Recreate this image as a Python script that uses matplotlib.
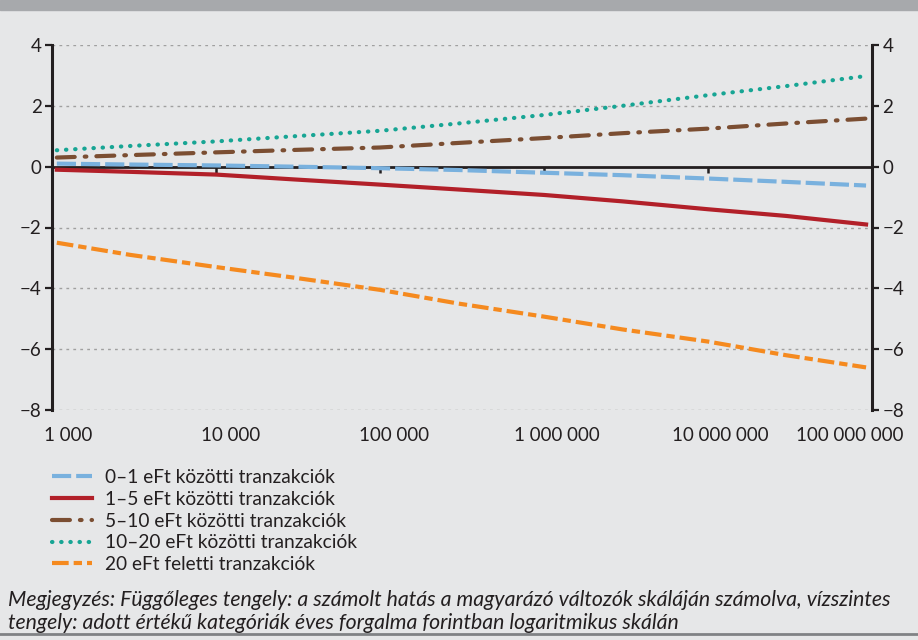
import matplotlib
matplotlib.use("Agg")
import matplotlib.pyplot as plt
import matplotlib.transforms as mtransforms
from matplotlib.lines import Line2D
from matplotlib import font_manager

plt.rcParams['font.family'] = ['Lato', 'DejaVu Sans']

# ---- data ----
x_vals = [1070, 3000, 10000, 30000, 100000, 300000, 1000000, 3000000,
          10000000, 30000000, 92000000]
s_0_1 = [0.10, 0.07, 0.04, 0.00, -0.05, -0.11, -0.20, -0.28, -0.39, -0.50, -0.62]
s_1_5 = [-0.10, -0.17, -0.26, -0.42, -0.59, -0.75, -0.93, -1.14, -1.40, -1.62, -1.90]
s_5_10 = [0.30, 0.38, 0.47, 0.55, 0.63, 0.78, 0.94, 1.10, 1.25, 1.42, 1.58]
s_10_20 = [0.54, 0.68, 0.83, 1.00, 1.18, 1.42, 1.70, 2.00, 2.35, 2.65, 2.98]
s_20p = [-2.50, -2.90, -3.30, -3.65, -4.05, -4.50, -4.93, -5.35, -5.75, -6.20, -6.60]

labels = ["0–1 eFt közötti tranzakciók", "1–5 eFt közötti tranzakciók",
          "5–10 eFt közötti tranzakciók", "10–20 eFt közötti tranzakciók",
          "20 eFt feletti tranzakciók"]
x_ticks = [1e3, 1e4, 1e5, 1e6, 1e7, 1e8]
x_ticklabels = ["1 000", "10 000", "100 000", "1 000 000", "10 000 000", "100 000 000"]
y_ticks = [-8, -6, -4, -2, 0, 2, 4]
y_ticklabels = ["−8", "−6", "−4", "−2", "0", "2", "4"]
note = ("Megjegyzés: Függőleges tengely: a számolt hatás a magyarázó változók skáláján számolva, vízszintes\n"
        "tengely: adott értékű kategóriák éves forgalma forintban logaritmikus skálán")

installed = {f.name for f in font_manager.fontManager.ttflist}
note_family = ['Liberation Sans Narrow', 'Lato'] if 'Liberation Sans Narrow' in installed else ['Lato']
note_size = 14.5 if 'Liberation Sans Narrow' in installed else 15.3

BG = "#e6e7e8"
DARK = "#231f20"
fig = plt.figure(figsize=(9.18, 6.4), dpi=100, facecolor=BG)
ax = fig.add_axes([52/918, 1-410/640, (872-52)/918, (410-45)/640], facecolor=BG)

# top bar and bottom rule
fig.patches.append(plt.Rectangle((0, 1-10/640), 1, 10/640, transform=fig.transFigure,
                                 color="#a7a9ac", zorder=0))
fig.lines.append(Line2D([0, 1], [1-634/640, 1-634/640], transform=fig.transFigure,
                        color="#808285", lw=2))

lw = 3.0
ax.plot(x_vals, s_0_1, color="#79b1de", lw=lw, dashes=(4.6, 1.2), label=labels[0], zorder=4)
ax.plot(x_vals, s_1_5, color="#b22029", lw=lw, label=labels[1], zorder=4)
ax.plot(x_vals, s_5_10, color="#7b4e32", lw=lw, dashes=(4.3, 2.4, 0.4, 2.4), label=labels[2],
        dash_capstyle='round', zorder=4)
ax.plot(x_vals, s_10_20, color="#17a594", lw=lw, dashes=(0.1, 2.1), dash_capstyle='round',
        label=labels[3], zorder=4)
ax.plot(x_vals, s_20p, color="#f58a1f", lw=lw, dashes=(4, 1.2, 2, 1.2), label=labels[4], zorder=4)

ax.set_xscale('log')
ax.set_xlim(1e3, 1e8)
ax.set_ylim(-8, 4)

# grid
for y in y_ticks:
    if y != 0:
        ax.axhline(y, color="#a0a0a0", lw=1, ls=(0, (2, 3)), zorder=1)

# spines
ax.spines['top'].set_visible(False)
for s in ['left', 'right']:
    ax.spines[s].set_color(DARK)
    ax.spines[s].set_linewidth(2.2)
ax.spines['bottom'].set_position(('data', 0))
ax.spines['bottom'].set_color(DARK)
ax.spines['bottom'].set_linewidth(2)
ax.spines['bottom'].set_zorder(3)

ax.set_xticks(x_ticks)
ax.xaxis.set_minor_locator(matplotlib.ticker.NullLocator())
ax.tick_params(axis='x', which='major', direction='out', length=4, width=1.8,
               color=DARK, labelbottom=False)

ax.set_yticks(y_ticks)
ax.set_yticklabels(y_ticklabels)
ax.tick_params(axis='y', direction='out', length=5, width=1.6, color=DARK,
               left=True, right=True, labelleft=True, labelright=True,
               labelsize=13.5, labelcolor=DARK, pad=2.5)

# x tick labels at the bottom via a secondary axis
sec = ax.secondary_xaxis('bottom')
sec.set_xticks(x_ticks)
sec.set_xticklabels(x_ticklabels)
sec.xaxis.set_minor_locator(matplotlib.ticker.NullLocator())
sec.tick_params(axis='x', length=0, labelsize=13.5, labelcolor=DARK, pad=12)
for sp in sec.spines.values():
    sp.set_visible(False)
offsets = [16, 15, 14, 13, 12, -22]
for lab, off in zip(sec.get_xticklabels(), offsets):
    lab.set_transform(lab.get_transform() +
                      mtransforms.ScaledTranslation(off/100, 0, fig.dpi_scale_trans))

leg = fig.legend(loc='upper left', bbox_to_anchor=(52/918, 1-469/640), frameon=False,
                 fontsize=13.8, handlelength=2.1, handletextpad=0.65, labelspacing=0.25,
                 borderaxespad=0, borderpad=0)
for t in leg.get_texts():
    t.set_color(DARK)

fig.text(8/918, 1-590/640, note, ha='left', va='top', fontsize=note_size, style='italic',
         color=DARK, linespacing=1.18, family=note_family)

fig.savefig("out.png", dpi=100, facecolor=BG)
